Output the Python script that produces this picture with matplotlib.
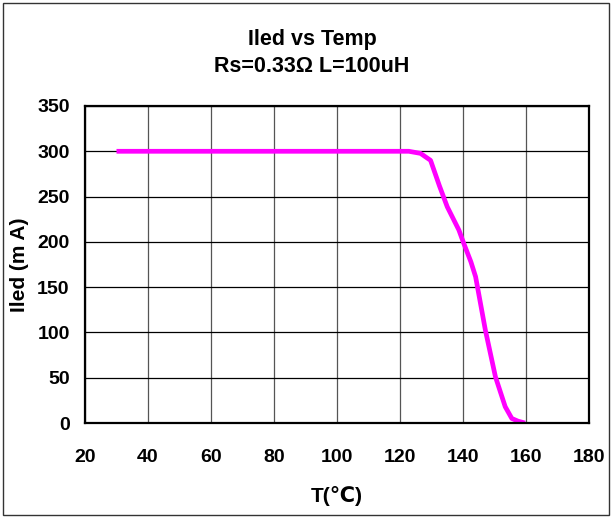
import matplotlib.pyplot as plt
from matplotlib.patches import Rectangle

# Data
temp = [30, 60, 90, 120, 122.8, 126.5, 129.7, 132.5, 135, 138.7, 140.2, 142.5, 144, 147.1, 150.3, 153.4, 155.5, 157.5, 159.7]
iled = [300, 300, 300, 300, 300, 297.7, 290, 262, 238.7, 213, 198.7, 178, 161.5, 102.6, 51, 18, 5, 2, 0]

xticks = [20, 40, 60, 80, 100, 120, 140, 160, 180]
yticks = [0, 50, 100, 150, 200, 250, 300, 350]

plt.rcParams['font.family'] = ['Liberation Sans', 'DejaVu Sans']
plt.rcParams['font.weight'] = 'bold'

fig = plt.figure(figsize=(6.12, 5.17), dpi=100)
ax = fig.add_axes([85 / 612, 1 - 423 / 517, 504 / 612, 317 / 517])

ax.plot(temp, iled, color='#ff00ff', linewidth=3.4, solid_capstyle='butt',
        solid_joinstyle='round')

ax.set_xlim(20, 180)
ax.set_ylim(0, 350)
ax.set_xticks(xticks)
ax.set_yticks(yticks)
ax.tick_params(length=0, labelsize=14)
ax.tick_params(axis='x', pad=19)
ax.tick_params(axis='y', pad=11)
for lbl in ax.get_xticklabels() + ax.get_yticklabels():
    lbl.set_fontweight('bold')

ax.grid(axis='y', color='black', linewidth=0.9)
ax.grid(axis='x', color='#555555', linewidth=0.9)
ax.set_axisbelow(True)
for sp in ax.spines.values():
    sp.set_linewidth(1.6)
    sp.set_color('black')

ax.set_xlabel('T(℃)', fontsize=15, fontweight='bold', labelpad=14)
ax.set_ylabel('Iled (m A)', fontsize=15, fontweight='bold', labelpad=6)

fig.text(0.51, 1 - 40 / 517, 'Iled vs Temp', ha='center', va='center',
         fontsize=15.5, fontweight='bold')
fig.text(0.51, 1 - 67 / 517, 'Rs=0.33Ω L=100uH', ha='center', va='center',
         fontsize=15.5, fontweight='bold')

# thin outer frame
fig.patches.append(Rectangle((3 / 612, 2 / 517), 606 / 612, 512 / 517,
                             transform=fig.transFigure, fill=False,
                             edgecolor='#333333', linewidth=1.0))

fig.savefig('out.png', dpi=100)
